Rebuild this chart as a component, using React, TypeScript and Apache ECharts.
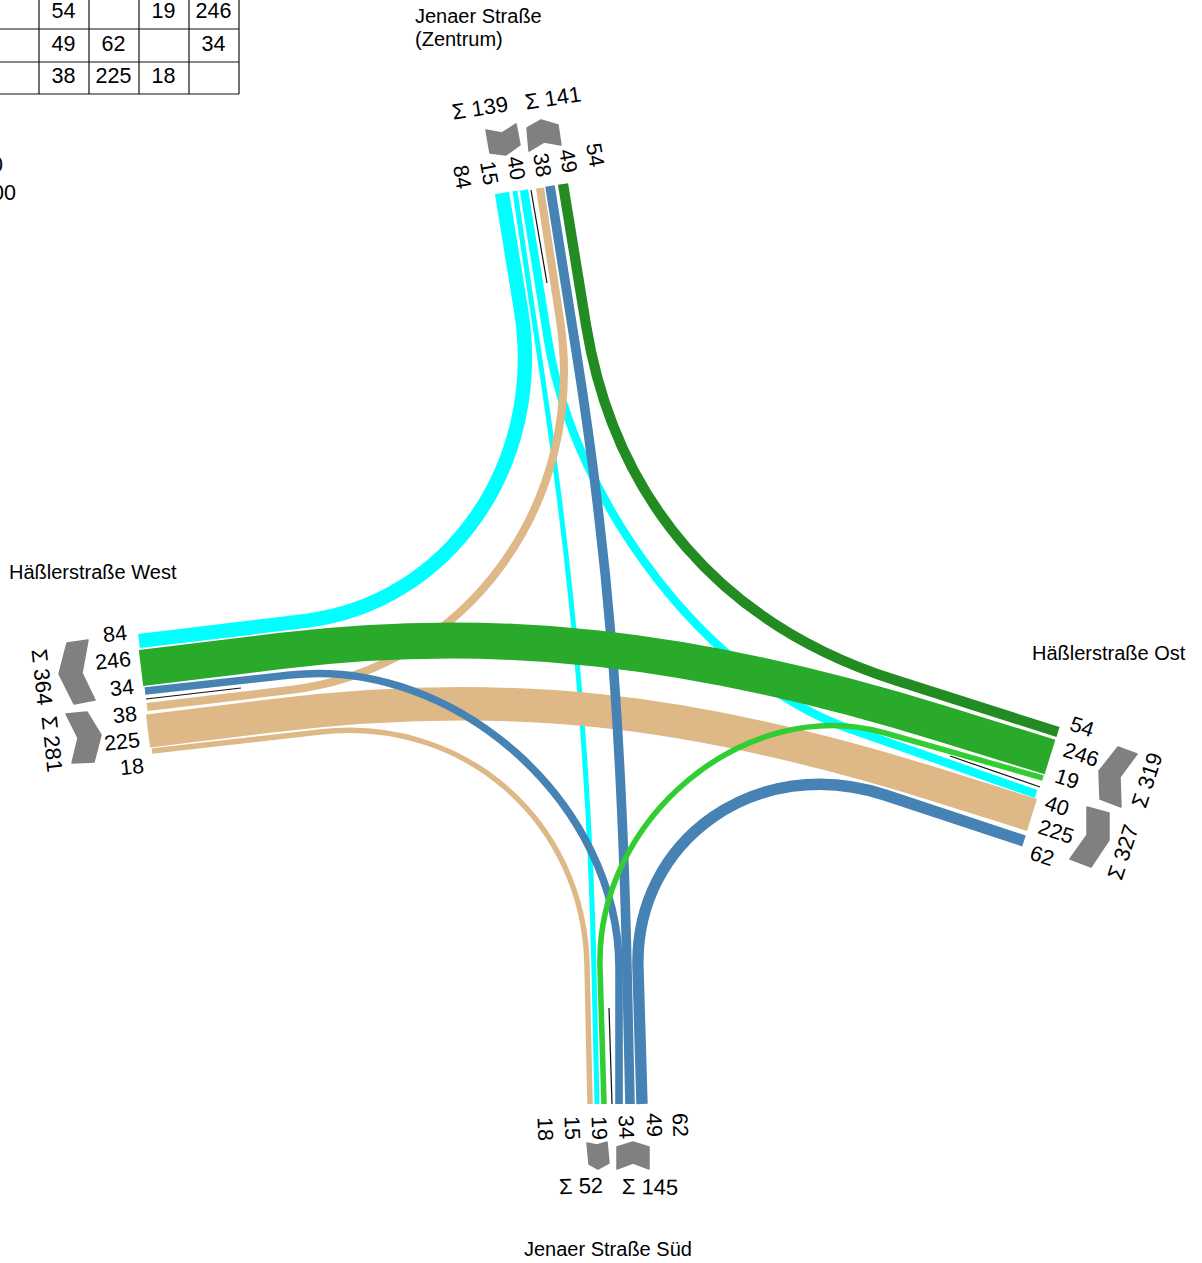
import React, { useEffect, useRef } from "react";
import * as echarts from "echarts";

const WIDTH = 1202;
const HEIGHT = 1263;
const FONT = '"Liberation Sans", Arial, sans-serif';

// Turning-movement matrix fragment shown top-left
const TABLE_ROWS = [
  ["54", "", "19", "246"],
  ["49", "62", "", "34"],
  ["38", "225", "18", ""],
];
const TABLE_COL_X = [39, 89, 139, 189, 239];
const TABLE_ROW_Y = [-4, 29, 62, 94];

// Flow volumes, in drawing order (bottom to top)
const FLOW_NAMES = ["N-W cyan", "N-S cyan", "N-O cyan", "N-W tan", "W-S tan", "W-O tan", "W-S blue", "N-S blue", "O-S blue", "N-O green", "W-O green", "O-S green"];
const FLOW_VALUES = [84, 15, 40, 38, 18, 225, 34, 49, 62, 54, 246, 19];
const FLOW_COLORS = ["#00FFFF", "#00FFFF", "#00FFFF", "#DEB887", "#DEB887", "#DEB887", "#4682B4", "#4682B4", "#4682B4", "#228B22", "#2AAA2A", "#32CD32"];

// Course of every flow: arm end, start of bend, end of bend, other arm end
const FLOW_ROUTES: number[][][] = [
  [[502, 193], [521, 310], [305, 621], [139, 641]],
  [[515, 191], [543, 380], [594, 970], [597, 1104]],
  [[524, 190], [548, 340], [850, 729], [1036, 794]],
  [[540, 188], [560, 320], [290, 690], [147, 707]],
  [[152, 751], [320, 732], [587, 965], [590, 1104]],
  [[148, 731], [270, 716], [940, 786], [1032, 815]],
  [[145, 691], [290, 675], [619, 968], [619, 1104]],
  [[550, 186], [576, 350], [627, 970], [630, 1104]],
  [[1024, 841], [885, 795], [638, 968], [642, 1104]],
  [[563, 184], [586, 325], [895, 680], [1058, 732]],
  [[141, 668], [280, 651], [940, 723], [1050, 757]],
  [[1043, 778], [885, 733], [600, 968], [604, 1104]],
];
// How far each bend's control points reach toward the corner of its two straights
const FLOW_BENDS = [0.55, 0.7, 0.55, 0.55, 0.55, 0.72, 0.5, 0.73, 0.5, 0.65, 0.7, 0.47];

// Thin black separators between the directions of each arm
const SEPARATORS = [
  [531, 190, 547, 283],
  [146, 699, 241, 688],
  [950, 756, 1040, 787],
  [609, 1008, 612, 1104],
];

// Volume labels per arm
const ARM_LABELS = [
  { rot: 80, items: [["84", 462, 177], ["15", 489, 173], ["40", 516, 168], ["38", 542, 165], ["49", 568, 161], ["54", 595, 155]] },
  { rot: -6, items: [["84", 115, 634], ["246", 113, 661], ["34", 122, 688], ["38", 125, 715], ["225", 122, 742], ["18", 132, 767]] },
  { rot: 18, items: [["54", 1082, 727], ["246", 1081, 755], ["19", 1067, 779], ["40", 1057, 806], ["225", 1056, 832], ["62", 1042, 856]] },
  { rot: 88, items: [["18", 545, 1129], ["15", 572, 1128], ["19", 599, 1128], ["34", 626, 1127], ["49", 654, 1125], ["62", 680, 1125]] },
];

// Sum labels
const SUM_LABELS: [string, number, number, number][] = [
  ["Σ 139", 480, 108, -9],
  ["Σ 141", 553, 98, -9],
  ["Σ 364", 42, 677, 84],
  ["Σ 281", 52, 744, 84],
  ["Σ 319", 1147, 780, -72],
  ["Σ 327", 1123, 852, -72],
  ["Σ 52", 581, 1186, -2],
  ["Σ 145", 650, 1187, 1],
];

// Grey direction chevrons
const CHEVRONS = [
  [[486, 130], [502, 133], [516, 124], [520, 145], [506, 155], [490, 153]],
  [[527, 128], [541, 120], [558, 125], [561, 145], [544, 142], [529, 151]],
  [[67, 643], [88, 640], [82, 673], [95, 700], [74, 704], [59, 674]],
  [[66, 714], [87, 712], [101, 735], [94, 762], [72, 763], [78, 738]],
  [[1118, 747], [1137, 754], [1120, 777], [1121, 807], [1100, 799], [1099, 771]],
  [[1087, 807], [1109, 813], [1109, 840], [1091, 867], [1070, 859], [1087, 835]],
  [[587, 1143], [597, 1145], [607, 1142], [609, 1163], [598, 1169], [589, 1164]],
  [[617, 1147], [633, 1142], [649, 1147], [649, 1169], [633, 1163], [617, 1169]],
];

// Street names
const STREET_NAMES: [string, number, number][] = [
  ["Jenaer Straße", 415, 16],
  ["(Zentrum)", 415, 39],
  ["Häßlerstraße West", 9, 571.5],
  ["Häßlerstraße Ost", 1032, 653],
  ["Jenaer Straße Süd", 524, 1249],
];

// Cut-off scale text at the left page edge
const CLIPPED_TEXTS: [string, number, number][] = [
  ["0", 3, 165],
  ["00", 16, 193],
];

// Straight, bend, straight; the bend's control points lie on the two straights
const bendPath = (p: number[][], k: number) => {
  const [a, b, c, d] = p;
  const ux = b[0] - a[0];
  const uy = b[1] - a[1];
  const vx = c[0] - d[0];
  const vy = c[1] - d[1];
  const det = ux * vy - uy * vx;
  const s = ((c[0] - b[0]) * vy - (c[1] - b[1]) * vx) / det;
  const cx = b[0] + ux * s;
  const cy = b[1] + uy * s;
  const c1x = b[0] + k * (cx - b[0]);
  const c1y = b[1] + k * (cy - b[1]);
  const c2x = c[0] + k * (cx - c[0]);
  const c2y = c[1] + k * (cy - c[1]);
  return `M${a[0]} ${a[1]} L${b[0]} ${b[1]} C${c1x} ${c1y} ${c2x} ${c2y} ${c[0]} ${c[1]} L${d[0]} ${d[1]}`;
};

const widthOf = (v: number) => 3 + 0.135 * v;

const textEl = (text: string, x: number, y: number, size: number, align: string, rotDeg = 0) => ({
  type: "text",
  x,
  y,
  rotation: (-rotDeg * Math.PI) / 180,
  silent: true,
  style: { text, fill: "#000", font: `${size}px ${FONT}`, textAlign: align, textVerticalAlign: "middle" },
});

const lineEl = (x1: number, y1: number, x2: number, y2: number, w: number) => ({
  type: "line",
  silent: true,
  shape: { x1, y1, x2, y2 },
  style: { stroke: "#111", lineWidth: w },
});

export default function App() {
  const ref = useRef<HTMLDivElement>(null);
  useEffect(() => {
    const chart = echarts.init(ref.current!, null, { renderer: "svg", width: WIDTH, height: HEIGHT });
    const graphics: any[] = [];
    TABLE_ROW_Y.slice(1).forEach((y) => graphics.push(lineEl(0, y, TABLE_COL_X[4], y, 1.2)));
    TABLE_COL_X.forEach((x) => graphics.push(lineEl(x, 0, x, TABLE_ROW_Y[3], 1.2)));
    TABLE_ROWS.forEach((row, r) =>
      row.forEach((t, c) => {
        if (t) graphics.push(textEl(t, (TABLE_COL_X[c] + TABLE_COL_X[c + 1]) / 2 - 0.5, (TABLE_ROW_Y[r] + TABLE_ROW_Y[r + 1]) / 2 - 2, 21.5, "center"));
      })
    );
    CLIPPED_TEXTS.forEach(([t, x, y]) => graphics.push(textEl(t, x, y, 21.5, "right")));
    SEPARATORS.forEach(([a, b, c, d]) => graphics.push(lineEl(a, b, c, d, 1.2)));
    CHEVRONS.forEach((points) =>
      graphics.push({
        type: "polygon",
        silent: true,
        shape: { points },
        style: { fill: "#808080", stroke: "#808080", lineWidth: 1.5, lineJoin: "round" },
      })
    );
    ARM_LABELS.forEach((arm) =>
      arm.items.forEach(([t, x, y]) => graphics.push(textEl(t as string, x as number, y as number, 21.5, "center", arm.rot)))
    );
    SUM_LABELS.forEach(([t, x, y, rot]) => graphics.push(textEl(t, x, y, 22, "center", rot)));
    STREET_NAMES.forEach(([t, x, y]) => graphics.push(textEl(t, x, y, 20, "left")));

    chart.setOption({
      animation: false,
      backgroundColor: "#fff",
      grid: { left: 0, right: 0, top: 0, bottom: 0 },
      xAxis: { type: "value", min: 0, max: WIDTH, show: false },
      yAxis: { type: "value", min: 0, max: HEIGHT, inverse: true, show: false },
      graphic: graphics,
      series: [
        {
          type: "custom",
          name: "Verkehrsströme",
          coordinateSystem: "cartesian2d",
          silent: true,
          clip: false,
          encode: { x: 0, y: 1 },
          data: FLOW_VALUES.map((v, i) => ({ name: FLOW_NAMES[i], value: [i, v] })),
          renderItem: (_p: any, api: any) => {
            const i = api.value(0);
            const pts = FLOW_ROUTES[i].map((q) => api.coord(q));
            return {
              type: "path",
              shape: { pathData: bendPath(pts, FLOW_BENDS[i]) },
              style: {
                fill: "none",
                stroke: FLOW_COLORS[i],
                lineWidth: widthOf(api.value(1)),
                lineCap: "butt",
                lineJoin: "round",
              },
            };
          },
        },
      ],
    });
    return () => chart.dispose();
  }, []);
  return <div ref={ref} style={{ position: "absolute", left: 0, top: 0, width: WIDTH, height: HEIGHT }} />;
}
